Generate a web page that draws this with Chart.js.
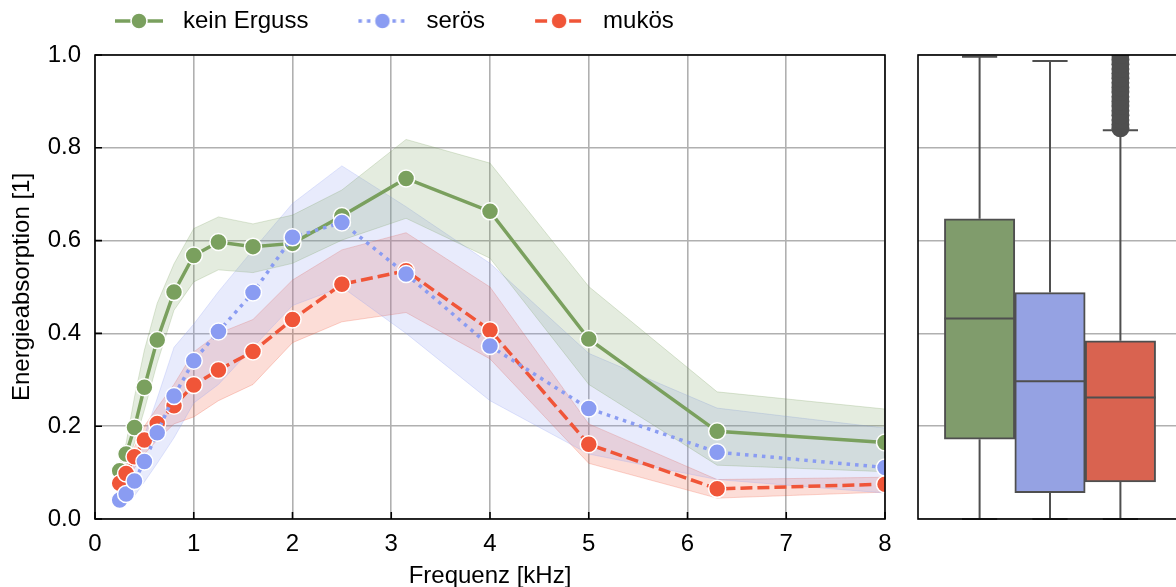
<!DOCTYPE html>
<html>
<head>
    <title>Energieabsorption</title>
    <script src="https://cdn.jsdelivr.net/npm/chart.js@4"></script>
    <style>
        body {
            margin: 0;
            background: #fff;
            overflow: hidden;
        }
        #linePanel {
            position: absolute;
            left: 0;
            top: 0;
        }
        #boxPanel {
            position: absolute;
            left: 900px;
            top: 0;
        }
    </style>
</head>
<body>
<canvas id="linePanel" width="905" height="587"></canvas>
<canvas id="boxPanel" width="300" height="587"></canvas>
<script>
    // Terzband-Frequenzen in kHz
    const frequencies = [0.25, 0.315, 0.4, 0.5, 0.63, 0.8, 1, 1.25, 1.6, 2, 2.5, 3.15, 4, 5, 6.3, 8];

    // Mittelwerte je Gruppe
    const meanKein   = [0.104, 0.140, 0.197, 0.284, 0.386, 0.489, 0.568, 0.597, 0.587, 0.594, 0.653, 0.734, 0.663, 0.388, 0.189, 0.165];
    const meanSeroes = [0.041, 0.054, 0.082, 0.124, 0.186, 0.265, 0.341, 0.404, 0.488, 0.607, 0.639, 0.528, 0.373, 0.238, 0.144, 0.111];
    const meanMukoes = [0.077, 0.098, 0.134, 0.170, 0.206, 0.244, 0.289, 0.321, 0.361, 0.430, 0.506, 0.535, 0.407, 0.161, 0.065, 0.075];

    // Konfidenzbaender (untere / obere Grenze)
    const loKein   = [0.078, 0.113, 0.164, 0.235, 0.336, 0.450, 0.511, 0.537, 0.531, 0.551, 0.601, 0.648, 0.562, 0.290, 0.116, 0.102];
    const hiKein   = [0.130, 0.163, 0.263, 0.364, 0.465, 0.550, 0.626, 0.651, 0.636, 0.655, 0.709, 0.818, 0.767, 0.501, 0.274, 0.237];
    const loSeroes = [0.025, 0.035, 0.050, 0.080, 0.120, 0.175, 0.250, 0.290, 0.370, 0.460, 0.500, 0.400, 0.255, 0.140, 0.085, 0.056];
    const hiSeroes = [0.060, 0.080, 0.120, 0.180, 0.260, 0.370, 0.420, 0.490, 0.580, 0.680, 0.761, 0.673, 0.551, 0.357, 0.239, 0.196];
    const loMukoes = [0.065, 0.080, 0.110, 0.140, 0.170, 0.205, 0.220, 0.255, 0.290, 0.380, 0.425, 0.445, 0.345, 0.120, 0.045, 0.058];
    const hiMukoes = [0.090, 0.115, 0.155, 0.200, 0.240, 0.290, 0.360, 0.400, 0.430, 0.515, 0.580, 0.617, 0.500, 0.205, 0.085, 0.090];

    // Boxplot-Kennwerte je Gruppe
    const groups      = ['kein Erguss', 'serös', 'mukös'];
    const boxQ1       = [0.172, 0.057, 0.080];
    const boxMedian   = [0.432, 0.297, 0.262];
    const boxQ3       = [0.647, 0.488, 0.384];
    const whiskerLow  = [0.0, 0.0, 0.0];
    const whiskerHigh = [0.996, 0.987, 0.838];
    const outliersMukoes = [0.842, 0.85, 0.86, 0.87, 0.88, 0.89, 0.90, 0.91, 0.92, 0.93, 0.94, 0.95, 0.96, 0.97, 0.98, 0.99, 1.0];

    const GREEN = '#7aa05e';
    const BLUE = '#8a9cf2';
    const RED = '#f05538';
    const GRID = '#b0b0b0';
    const EDGE = '#4f4f4f';

    Chart.defaults.font.family = 'Arial, "Liberation Sans", sans-serif';
    Chart.defaults.font.size = 24;
    Chart.defaults.color = '#000';

    const points = (values) => values.map((v, i) => ({x: frequencies[i], y: v}));

    function rgba(hex, a) {
        const n = parseInt(hex.slice(1), 16);
        return `rgba(${n >> 16}, ${(n >> 8) & 255}, ${n & 255}, ${a})`;
    }

    // Legend handle: a short line with a marker, drawn into a small canvas
    function legendHandle(color, dash) {
        const c = document.createElement('canvas');
        c.width = 96;
        c.height = 24;
        const g = c.getContext('2d');
        g.strokeStyle = color;
        g.lineWidth = 3.5;
        g.setLineDash(dash);
        g.beginPath();
        g.moveTo(40, 12);
        g.lineTo(88, 12);
        g.stroke();
        g.setLineDash([]);
        g.fillStyle = color;
        g.strokeStyle = '#fff';
        g.lineWidth = 1.5;
        g.beginPath();
        g.arc(64, 12, 8, 0, Math.PI * 2);
        g.fill();
        g.stroke();
        return c;
    }

    function band(lo, hi, color) {
        return [{
            data: points(lo),
            borderColor: rgba(color, 0.25),
            borderWidth: 1,
            pointRadius: 0,
            fill: false,
            order: 10,
        }, {
            data: points(hi),
            borderColor: rgba(color, 0.25),
            borderWidth: 1,
            backgroundColor: rgba(color, 0.2),
            pointRadius: 0,
            fill: '-1',
            order: 10,
        }];
    }

    function meanLine(label, values, color, dash, order) {
        return {
            label: label,
            data: points(values),
            borderColor: color,
            borderWidth: 3.5,
            borderDash: dash,
            pointRadius: 8.5,
            pointBackgroundColor: color,
            pointBorderColor: '#fff',
            pointBorderWidth: 1.5,
            fill: false,
            order: order,
        };
    }

    // Black frame round the plot area (all four spines)
    const frame = {
        id: 'frame',
        afterDraw(chart, args, opts) {
            const {ctx, chartArea: a} = chart;
            ctx.save();
            ctx.strokeStyle = '#000';
            ctx.lineWidth = 1.6;
            if (opts.ticks) {
                const {x, y} = chart.scales;
                ctx.beginPath();
                x.ticks.forEach((t, i) => {
                    const px = x.getPixelForTick(i);
                    ctx.moveTo(px, a.bottom);
                    ctx.lineTo(px, a.bottom - 7);
                });
                y.ticks.forEach((t, i) => {
                    const py = y.getPixelForTick(i);
                    ctx.moveTo(a.left, py);
                    ctx.lineTo(a.left + 7, py);
                });
                ctx.stroke();
            }
            ctx.strokeRect(a.left, a.top, a.width, a.height);
            ctx.restore();
        }
    };

    // Put the legend where it sits in the original figure
    const legendSpot = {
        id: 'legendSpot',
        afterLayout(chart, args, opts) {
            const l = chart.legend;
            const h = l.height;
            l.left = opts.left;
            l.top = opts.top;
            l.bottom = opts.top + h;
        }
    };

    new Chart(document.getElementById('linePanel'), {
        type: 'line',
        data: {
            datasets: [
                ...band(loKein, hiKein, GREEN),
                ...band(loSeroes, hiSeroes, BLUE),
                ...band(loMukoes, hiMukoes, RED),
                meanLine('kein Erguss', meanKein, GREEN, [], 3),
                meanLine('serös', meanSeroes, BLUE, [3.5, 5], 1),
                meanLine('mukös', meanMukoes, RED, [12, 5], 2),
            ]
        },
        plugins: [frame, legendSpot],
        options: {
            responsive: false,
            animation: false,
            events: [],
            layout: {
                padding: {top: 11, right: 20, bottom: 0, left: 0}
            },
            plugins: {
                frame: {ticks: true},
                legendSpot: {left: 65, top: -1},
                tooltip: {enabled: false},
                legend: {
                    position: 'top',
                    align: 'start',
                    labels: {
                        usePointStyle: true,
                        pointStyleWidth: 96,
                        boxHeight: 24,
                        padding: 10,
                        color: '#000',
                        font: {size: 24},
                        generateLabels: () => [
                            {text: 'kein Erguss', pointStyle: legendHandle(GREEN, []), fontColor: '#000', lineWidth: 0},
                            {text: 'serös', pointStyle: legendHandle(BLUE, [3.5, 5]), fontColor: '#000', lineWidth: 0},
                            {text: 'mukös', pointStyle: legendHandle(RED, [12, 5]), fontColor: '#000', lineWidth: 0},
                        ]
                    }
                }
            },
            scales: {
                x: {
                    type: 'linear',
                    min: 0,
                    max: 8,
                    afterFit: (scale) => { scale.height = 68; },
                    ticks: {stepSize: 1, padding: 11, color: '#000'},
                    grid: {color: GRID, lineWidth: 1.6, drawTicks: false},
                    border: {display: false},
                    title: {
                        display: true,
                        text: 'Frequenz [kHz]',
                        color: '#000',
                        font: {size: 24},
                        padding: {top: 0, bottom: -4}
                    }
                },
                y: {
                    min: 0,
                    max: 1,
                    afterFit: (scale) => { scale.width = 95; },
                    ticks: {
                        stepSize: 0.2,
                        padding: 14,
                        color: '#000',
                        callback: (v) => v.toFixed(1)
                    },
                    grid: {color: GRID, lineWidth: 1.6, drawTicks: false},
                    border: {display: false},
                    title: {
                        display: true,
                        text: 'Energieabsorption [1]',
                        color: '#000',
                        font: {size: 24},
                        padding: {top: 8, bottom: 0}
                    }
                }
            }
        }
    });

    // Median, whiskers and caps for the box plot
    const boxWhiskers = {
        id: 'boxWhiskers',
        afterDatasetsDraw(chart) {
            const {ctx} = chart;
            const y = chart.scales.y;
            const meta = chart.getDatasetMeta(0);
            ctx.save();
            ctx.strokeStyle = EDGE;
            ctx.lineWidth = 2;
            ctx.beginPath();
            meta.data.forEach((bar, i) => {
                const half = bar.width / 2;
                const cx = bar.x;
                const yMed = y.getPixelForValue(boxMedian[i]);
                const yHi = y.getPixelForValue(whiskerHigh[i]);
                const yLo = y.getPixelForValue(whiskerLow[i]);
                ctx.moveTo(cx - half, yMed);
                ctx.lineTo(cx + half, yMed);
                ctx.moveTo(cx, y.getPixelForValue(boxQ3[i]));
                ctx.lineTo(cx, yHi);
                ctx.moveTo(cx, y.getPixelForValue(boxQ1[i]));
                ctx.lineTo(cx, yLo);
                ctx.moveTo(cx - half / 2, yHi);
                ctx.lineTo(cx + half / 2, yHi);
                ctx.moveTo(cx - half / 2, yLo);
                ctx.lineTo(cx + half / 2, yLo);
            });
            ctx.stroke();
            ctx.restore();
        }
    };

    new Chart(document.getElementById('boxPanel'), {
        type: 'bar',
        data: {
            datasets: [{
                data: groups.map((g, i) => ({x: i, y: [boxQ1[i], boxQ3[i]]})),
                backgroundColor: ['#809c6c', '#95a2e3', '#d96350'],
                borderColor: EDGE,
                borderWidth: 2,
                borderSkipped: false,
                barThickness: 'flex',
                barPercentage: 1,
                categoryPercentage: 1,
                order: 1,
            }, {
                type: 'scatter',
                data: outliersMukoes.map(v => ({x: groups.indexOf('mukös'), y: v})),
                pointRadius: 9,
                pointBackgroundColor: EDGE,
                pointBorderWidth: 0,
                order: 0,
            }]
        },
        plugins: [boxWhiskers, frame],
        options: {
            responsive: false,
            animation: false,
            events: [],
            layout: {
                padding: {top: 55, right: 18, bottom: 68, left: 18}
            },
            plugins: {
                legend: {display: false},
                tooltip: {enabled: false},
                frame: {ticks: false}
            },
            scales: {
                x: {
                    type: 'linear',
                    min: -0.875,
                    max: 2.875,
                    offset: false,
                    display: false
                },
                y: {
                    min: 0,
                    max: 1,
                    ticks: {display: false, stepSize: 0.2},
                    grid: {color: GRID, lineWidth: 1.6, drawTicks: false},
                    border: {display: false}
                }
            }
        }
    });
</script>
</body>
</html>
